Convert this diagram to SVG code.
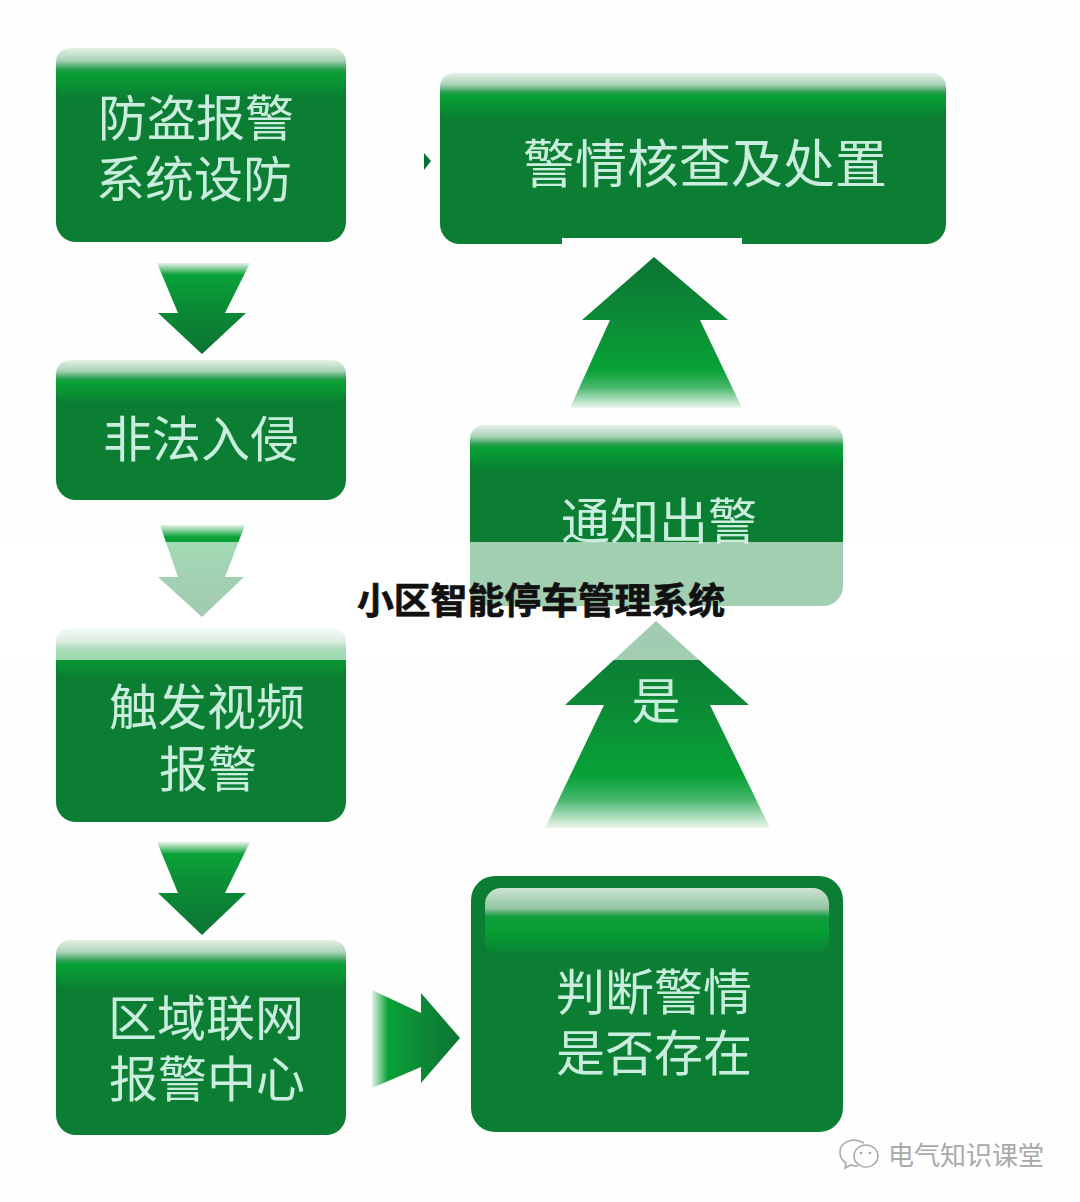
<svg xmlns="http://www.w3.org/2000/svg" width="1080" height="1202" viewBox="0 0 1080 1202">
<style>
.box{fill:#0b7e34}
.band{fill:url(#topG)}
.lbl{font-family:"Noto Sans CJK SC","Liberation Sans",sans-serif;font-size:49px;fill:#c9eedd;text-anchor:middle;dominant-baseline:central;filter:url(#soft)}
.title{font-family:"Noto Sans CJK SC","Liberation Sans",sans-serif;font-size:36.8px;font-weight:700;fill:#111;stroke:#111;stroke-width:.7;text-anchor:middle;dominant-baseline:central}
.mark{font-family:"Noto Sans CJK SC","Liberation Sans",sans-serif;font-size:26px;fill:#a8aaa8;text-anchor:middle;dominant-baseline:central}
</style>
<defs>
<filter id="soft" x="-10%" y="-10%" width="120%" height="120%"><feGaussianBlur stdDeviation="0.6"/></filter>
<linearGradient id="topG" x1="0" y1="0" x2="0" y2="1">
<stop offset="0" stop-color="#e6f1e8"/><stop offset=".25" stop-color="#a9d3b6"/><stop offset=".42" stop-color="#2a9f52"/><stop offset=".5" stop-color="#07a033"/><stop offset=".72" stop-color="#099333"/><stop offset="1" stop-color="#0b7e34"/>
</linearGradient>
<linearGradient id="innerG" x1="0" y1="0" x2="0" y2="1">
<stop offset="0" stop-color="#cfe3d4"/><stop offset=".3" stop-color="#93c6a3"/><stop offset=".42" stop-color="#129c3e"/><stop offset=".62" stop-color="#07a033"/><stop offset="1" stop-color="#0b7e34"/>
</linearGradient>
<linearGradient id="downG" x1="0" y1="0" x2="0" y2="1">
<stop offset="0" stop-color="#e8f3ea"/><stop offset=".13" stop-color="#0aa238"/><stop offset=".5" stop-color="#0b8a35"/><stop offset="1" stop-color="#0b7434"/>
</linearGradient>
<linearGradient id="upG" x1="0" y1="1" x2="0" y2="0">
<stop offset="0" stop-color="#eef6ef"/><stop offset=".14" stop-color="#45b56a"/><stop offset=".25" stop-color="#08a237"/><stop offset=".6" stop-color="#0b8a35"/><stop offset="1" stop-color="#0b7434"/>
</linearGradient>
<linearGradient id="rightG" x1="0" y1="0" x2="1" y2="0">
<stop offset="0" stop-color="#e4f1e7"/><stop offset=".18" stop-color="#0aa238"/><stop offset=".55" stop-color="#0b8a35"/><stop offset="1" stop-color="#0b7434"/>
</linearGradient>
</defs>
<rect width="1080" height="1202" fill="#fefefe"/>
<g id="connectors">
<path fill="url(#downG)" d="M157 263H250L225 313H246L202 354L158 313H178Z"/>
<path fill="url(#downG)" d="M160 525H245L225 577H244L202 617L158 577H178Z"/>
<path fill="url(#downG)" d="M157 842H250L225 893H246L202 935L158 893H178Z"/>
<path fill="url(#upG)" d="M654 257L728 320H700L742 408H570L610 320H582Z"/>
<path fill="url(#upG)" d="M656 621L749 705H710L770 828H545L604 705H565Z"/>
<path fill="url(#rightG)" d="M372 990L421 1013V993L460 1038L421 1083V1067L372 1088Z"/>
<path fill="#0b6e35" d="M424 153L431 161L424 170Z"/>
</g>
<g id="node-arm">
<rect class="box" x="56" y="48" width="290" height="194" rx="20"/>
<rect class="band" x="56" y="48" width="290" height="50" rx="14"/>
<text class="lbl" x="196" y="114">防盗报警</text>
<text class="lbl" x="194" y="175">系统设防</text>
</g>
<g id="node-verify">
<rect class="box" x="440" y="73" width="506" height="171" rx="20"/>
<rect class="band" x="440" y="73" width="506" height="46" rx="14"/>
<rect x="562" y="238" width="180" height="7" fill="#fefefe"/>
<text class="lbl" x="705" y="160" style="font-size:52px">警情核查及处置</text>
</g>
<g id="node-intrusion">
<rect class="box" x="56" y="360" width="290" height="140" rx="20"/>
<rect class="band" x="56" y="360" width="290" height="44" rx="14"/>
<text class="lbl" x="201" y="435">非法入侵</text>
</g>
<g id="node-video">
<rect class="box" x="56" y="628" width="290" height="194" rx="20"/>
<rect class="band" x="56" y="628" width="290" height="50" rx="14"/>
<text class="lbl" x="207" y="703">触发视频</text>
<text class="lbl" x="208" y="765">报警</text>
</g>
<g id="node-center">
<rect class="box" x="56" y="940" width="290" height="195" rx="20"/>
<rect class="band" x="56" y="940" width="290" height="50" rx="14"/>
<text class="lbl" x="206" y="1014">区域联网</text>
<text class="lbl" x="207" y="1075">报警中心</text>
</g>
<g id="node-notify">
<rect class="box" x="470" y="425" width="373" height="181" rx="20"/>
<rect class="band" x="470" y="425" width="373" height="46" rx="14"/>
<text class="lbl" x="659" y="517">通知出警</text>
</g>
<g id="node-judge">
<rect class="box" x="471" y="876" width="372" height="256" rx="24"/>
<rect x="485" y="888" width="344" height="68" rx="16" fill="url(#innerG)"/>
<text class="lbl" x="654" y="988">判断警情</text>
<text class="lbl" x="654" y="1049">是否存在</text>
</g>
<g id="edge-label">
<text class="lbl" x="656" y="697">是</text>
</g>
<rect id="overlay" x="0" y="542" width="1080" height="118" fill="#fff" fill-opacity=".62"/>
<text class="title" x="541" y="598">小区智能停车管理系统</text>
<g id="watermark">
<path d="M864 1143C852 1136 839 1143 840 1153C840 1158 843 1161 846 1163L845 1168L851 1165C853 1166 856 1166 858 1166" fill="none" stroke="#a8aaa8" stroke-width="1.6"/>
<ellipse cx="866" cy="1156" rx="12" ry="11" fill="none" stroke="#a8aaa8" stroke-width="1.6"/>
<circle cx="861" cy="1153" r="1.3" fill="#a8aaa8"/><circle cx="870" cy="1153" r="1.3" fill="#a8aaa8"/>
<text class="mark" x="966" y="1153">电气知识课堂</text>
</g>
</svg>
